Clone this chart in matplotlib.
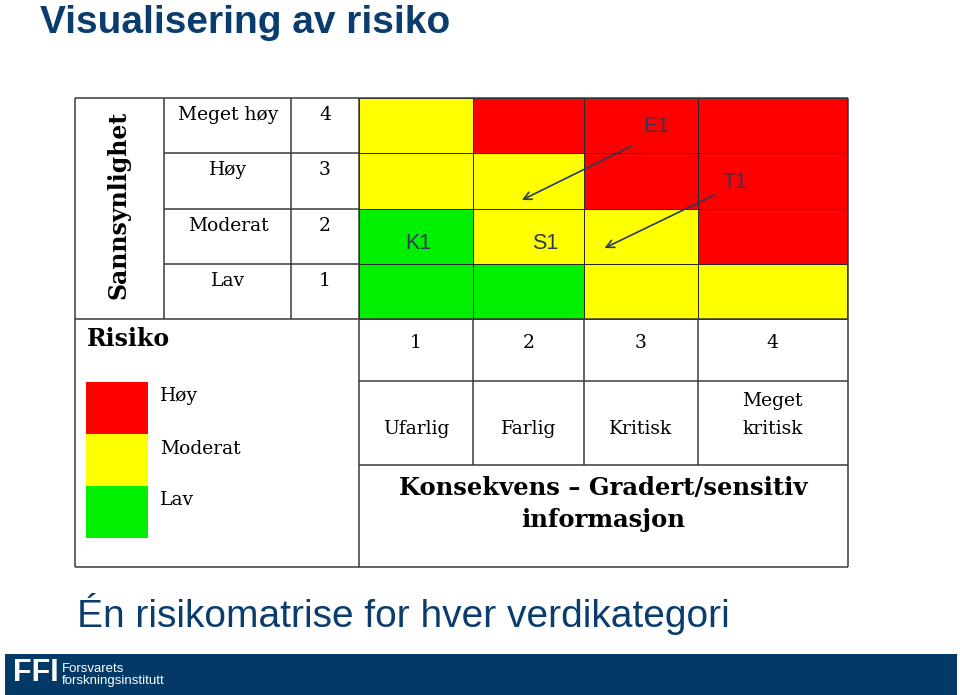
import numpy as np
import matplotlib
matplotlib.use("Agg")
import matplotlib.pyplot as plt
from matplotlib.colors import ListedColormap
from matplotlib.patches import Rectangle

# ---------------- data ----------------
likelihood_levels = [1, 2, 3, 4]
likelihood_labels = ["Lav", "Moderat", "Høy", "Meget høy"]
consequence_levels = [1, 2, 3, 4]
consequence_labels = ["Ufarlig", "Farlig", "Kritisk", "Meget\nkritisk"]
# risk grid: rows = likelihood 1..4, cols = consequence 1..4 ; 0=Lav, 1=Moderat, 2=Høy
risk_grid = [
    [0, 0, 1, 1],
    [0, 1, 1, 2],
    [1, 1, 2, 2],
    [1, 2, 2, 2],
]
risk_names = ["Lav", "Moderat", "Høy"]
risk_colors = ["#00F000", "#FFFF00", "#FF0000"]

item_names = ["K1", "S1", "E1", "T1"]
item_consequence = [1.02, 2.15, 3.13, 3.75]
item_likelihood = [1.88, 1.88, 3.98, 2.98]

arrow_from_consequence = [2.92, 3.61]
arrow_from_likelihood = [3.63, 2.75]
arrow_to_consequence = [1.94, 2.68]
arrow_to_likelihood = [2.66, 1.79]

title = "Visualisering av risiko"
subtitle = "Én risikomatrise for hver verdikategori"
x_title = "Konsekvens – Gradert/sensitiv\ninformasjon"
y_title = "Sannsynlighet"
legend_title = "Risiko"

# ---------------- layout ----------------
W, H = 960, 695
col_edges = [359, 473, 584, 698, 847]      # consequence 0.5 .. 4.5
row_edges = [319, 264, 209, 153, 98]       # likelihood 0.5 .. 4.5 (pixel y)
edge_units = [0.5, 1.5, 2.5, 3.5, 4.5]
left, right, top, bottom = 75, 848, 98, 567
navy = "#0b3c6e"
line_c = "#3a3a3a"
item_c = "#2b3a58"
serif = "DejaVu Serif"
sans = "Liberation Sans"

def px(c):
    return np.interp(c, edge_units, col_edges)

def py(l):
    return np.interp(l, edge_units, row_edges)

fig = plt.figure(figsize=(W / 100, H / 100), dpi=100)
ax = fig.add_axes([0, 0, 1, 1])
ax.set_xlim(0, W)
ax.set_ylim(H, 0)
ax.axis("off")

# matrix cells
cmap = ListedColormap(risk_colors)
grid = np.array(risk_grid)
X, Y = np.meshgrid(col_edges, row_edges)
ax.pcolormesh(X, Y, grid, cmap=cmap, vmin=-0.5, vmax=2.5,
              edgecolors="#2a2a2a", linewidth=0.7)

# table lines
lw = 1.1
def hline(y, x0, x1):
    ax.plot([x0, x1], [y, y], color=line_c, lw=lw, solid_capstyle="butt")
def vline(x, y0, y1):
    ax.plot([x, x], [y0, y1], color=line_c, lw=lw, solid_capstyle="butt")

hline(top, left, right)
hline(bottom, left, right)
vline(left, top, bottom)
vline(right, top, bottom)
hline(319, left, right)
for y in row_edges[1:4]:
    hline(y, 164, 359)
vline(164, top, 319)
vline(291, top, 319)
vline(359, top, bottom)
hline(381, 359, right)
hline(465, 359, right)
for x in col_edges[1:4]:
    vline(x, 319, 465)

# likelihood labels
for lev, lab in zip(likelihood_levels, likelihood_labels):
    ytop = py(lev + 0.5)
    ax.text(228, ytop + 17, lab, family=serif, fontsize=13.5, ha="center", va="center")
    ax.text(325, ytop + 17, str(lev), family=serif, fontsize=13.5, ha="center", va="center")

ax.text(119, 205, y_title, family=serif, fontsize=17, fontweight="bold",
        rotation=90, ha="center", va="center")

# consequence labels
for lev, lab in zip(consequence_levels, consequence_labels):
    xc = px(lev)
    ax.text(xc, 343, str(lev), family=serif, fontsize=13.5, ha="center", va="center")
    ax.text(xc, 438, lab, family=serif, fontsize=13.5, ha="center", va="bottom",
            linespacing=1.7)

ax.text(603.5, 504, x_title, family=serif, fontsize=17.5, fontweight="bold",
        ha="center", va="center", linespacing=1.4)

# legend
ax.text(87, 339, legend_title, family=serif, fontsize=17, fontweight="bold",
        ha="left", va="center")
leg_tops = [382, 434, 486]
leg_lab_y = [396, 449, 500]
for i, idx in enumerate([2, 1, 0]):
    ax.add_patch(Rectangle((86, leg_tops[i]), 62, 52, color=risk_colors[idx], lw=0))
    ax.text(160, leg_lab_y[i], risk_names[idx], family=serif, fontsize=13.5,
            ha="left", va="center")

# items and arrows
for n, c, l in zip(item_names, item_consequence, item_likelihood):
    ax.text(px(c), py(l), n, family=sans, fontsize=15.5, color=item_c,
            ha="center", va="center")
for c0, l0, c1, l1 in zip(arrow_from_consequence, arrow_from_likelihood,
                          arrow_to_consequence, arrow_to_likelihood):
    ax.annotate("", xy=(px(c1), py(l1)), xytext=(px(c0), py(l0)),
                arrowprops=dict(arrowstyle="->", color=item_c, lw=1.2,
                                mutation_scale=14, shrinkA=0, shrinkB=0))

# titles
ax.text(40, 33, title, family=sans, fontsize=28, fontweight="bold", color=navy,
        ha="left", va="baseline")
ax.text(77, 627, subtitle, family=sans, fontsize=28, color=navy,
        ha="left", va="baseline")

# footer
ax.add_patch(Rectangle((5, 654), 952, 41, color="#023966", lw=0))
ax.text(13, 681, "FFI", family=sans, fontsize=22, fontweight="bold", color="white",
        ha="left", va="baseline")
ax.text(62, 672, "Forsvarets", family=sans, fontsize=9.5, color="white",
        ha="left", va="baseline")
ax.text(62, 684, "forskningsinstitutt", family=sans, fontsize=9.5, color="white",
        ha="left", va="baseline")

fig.savefig("out.png", dpi=100)
